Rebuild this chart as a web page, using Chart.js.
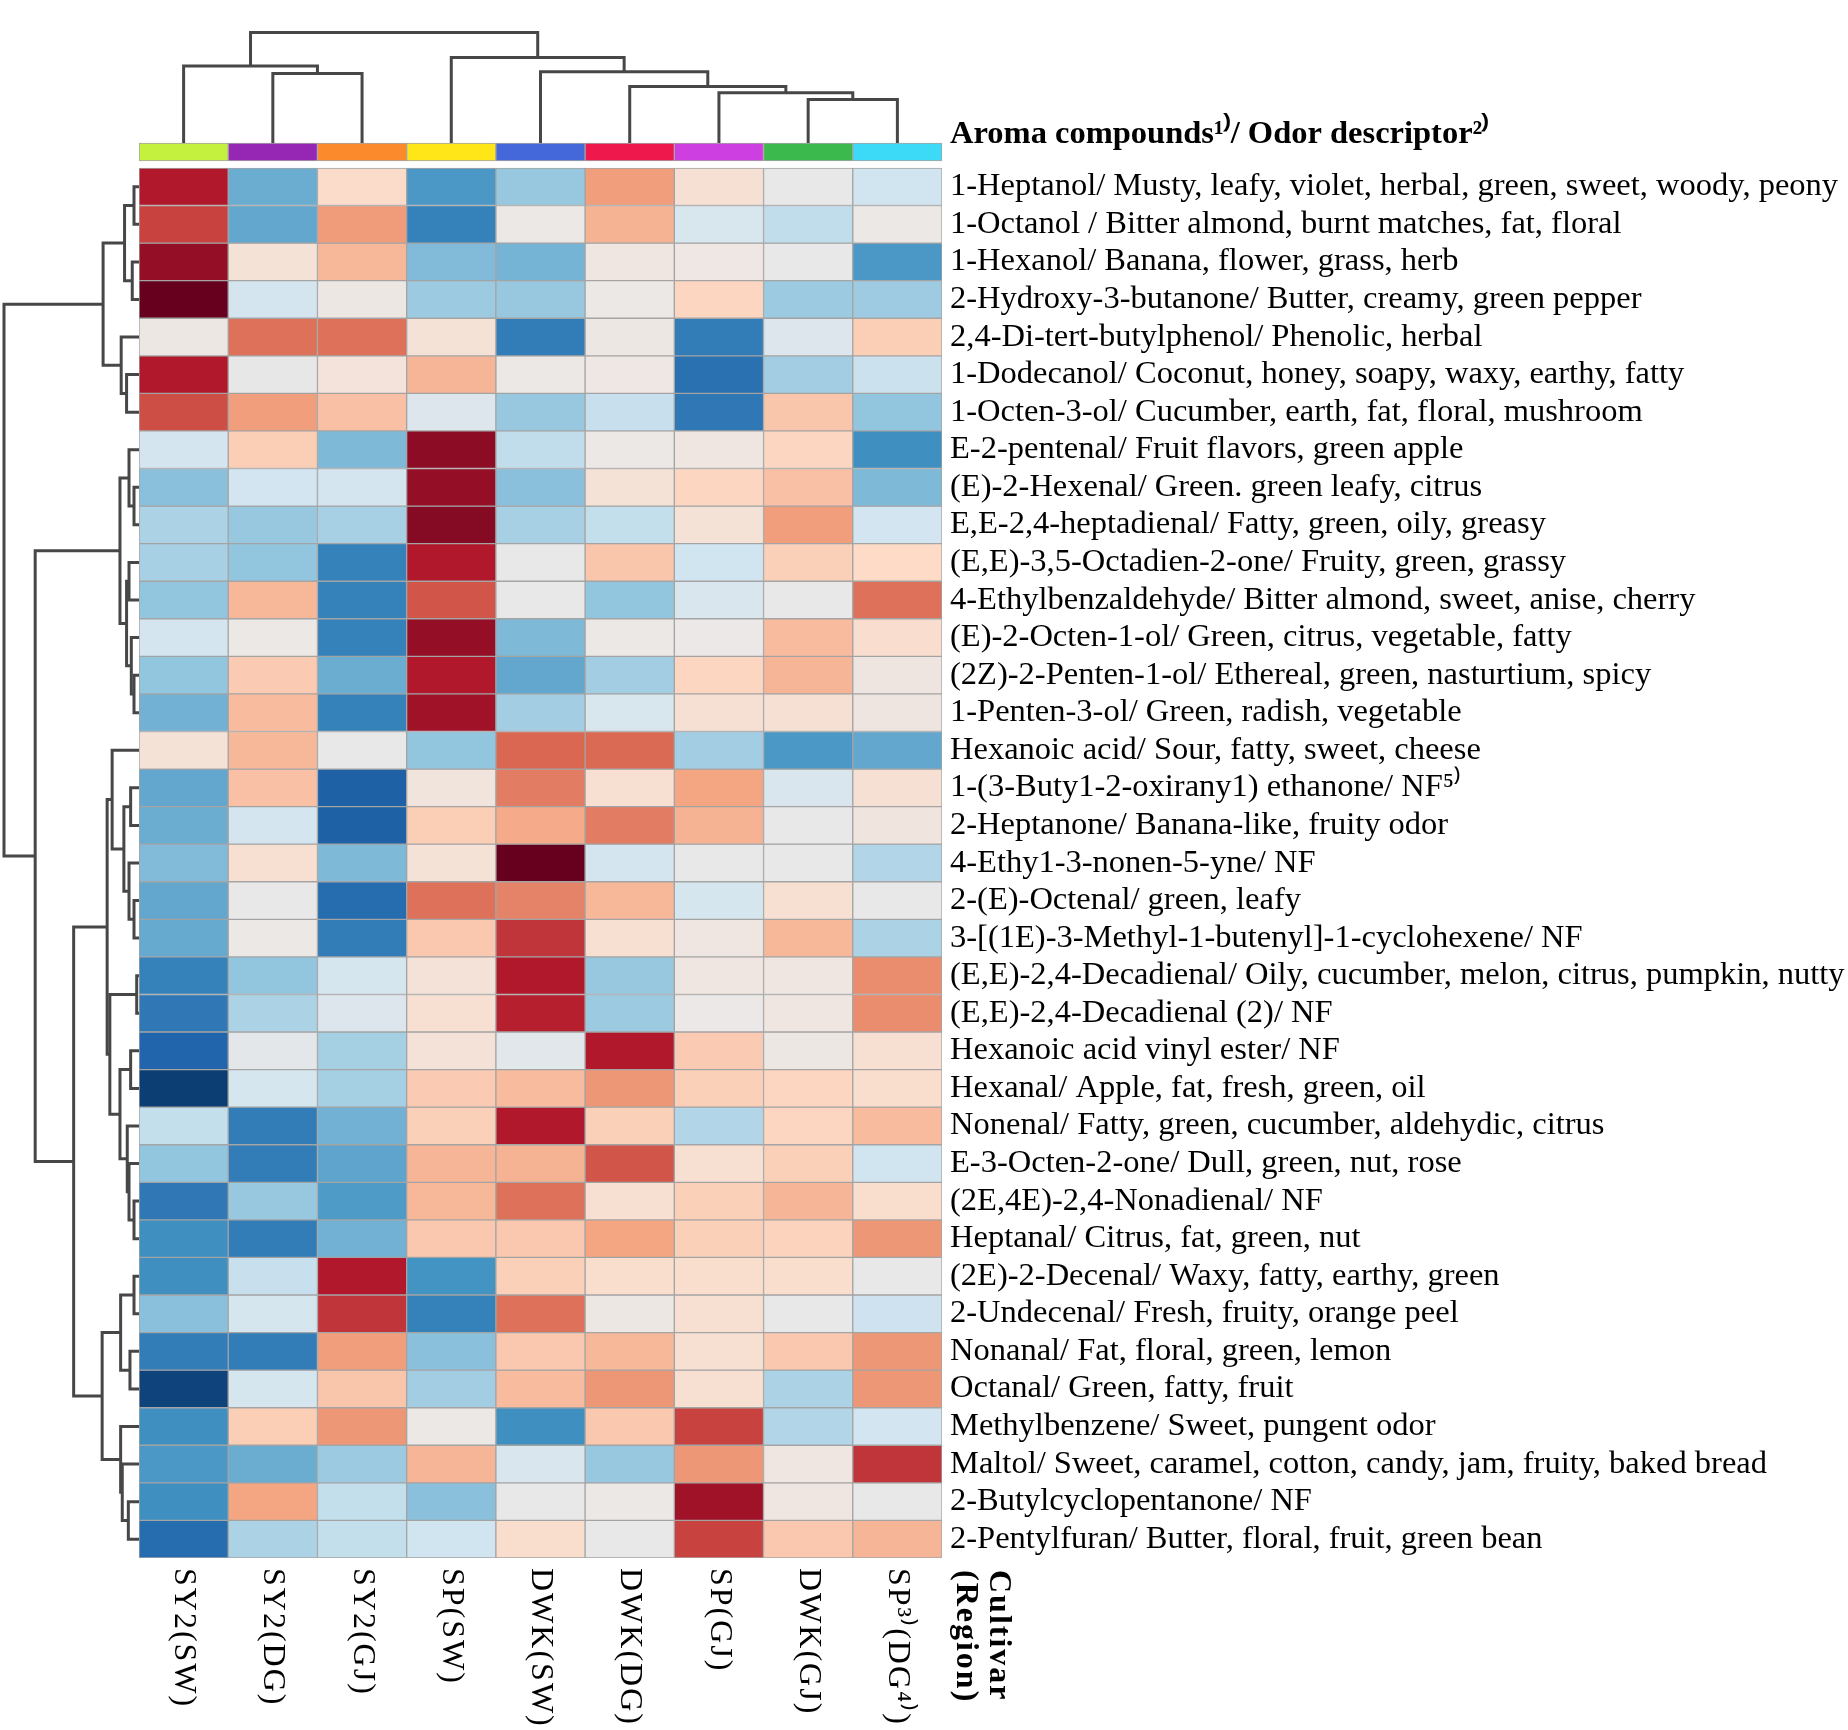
<!DOCTYPE html>
<html>
<head>
<meta charset="utf-8">
<script src="https://cdn.jsdelivr.net/npm/chart.js@4.4.0/dist/chart.umd.min.js"></script>
<style>
  body { margin: 0; background: #fff; }
  #wrap { position: relative; width: 1848px; height: 1730px; }
  canvas { position: absolute; left: 0; top: 0; }
</style>
</head>
<body>
<div id="wrap">
  <canvas id="heat" width="1848" height="1730"></canvas>
  <canvas id="colDendro" width="942" height="145"></canvas>
  <canvas id="rowDendro" width="141" height="1560"></canvas>
</div>
<script>
const header = 'Aroma compounds¹⁾/ Odor descriptor²⁾';
const compounds = [
  '1-Heptanol/ Musty, leafy, violet, herbal, green, sweet, woody, peony',
  '1-Octanol / Bitter almond, burnt matches, fat, floral',
  '1-Hexanol/ Banana, flower, grass, herb',
  '2-Hydroxy-3-butanone/ Butter, creamy, green pepper',
  '2,4-Di-tert-butylphenol/ Phenolic, herbal',
  '1-Dodecanol/ Coconut, honey, soapy, waxy, earthy, fatty',
  '1-Octen-3-ol/ Cucumber, earth, fat, floral, mushroom',
  'E-2-pentenal/ Fruit flavors, green apple',
  '(E)-2-Hexenal/ Green. green leafy, citrus',
  'E,E-2,4-heptadienal/ Fatty, green, oily, greasy',
  '(E,E)-3,5-Octadien-2-one/ Fruity, green, grassy',
  '4-Ethylbenzaldehyde/ Bitter almond, sweet, anise, cherry',
  '(E)-2-Octen-1-ol/ Green, citrus, vegetable, fatty',
  '(2Z)-2-Penten-1-ol/ Ethereal, green, nasturtium, spicy',
  '1-Penten-3-ol/ Green, radish, vegetable',
  'Hexanoic acid/ Sour, fatty, sweet, cheese',
  '1-(3-Buty1-2-oxirany1) ethanone/ NF⁵⁾',
  '2-Heptanone/ Banana-like, fruity odor',
  '4-Ethy1-3-nonen-5-yne/ NF',
  '2-(E)-Octenal/ green, leafy',
  '3-[(1E)-3-Methyl-1-butenyl]-1-cyclohexene/ NF',
  '(E,E)-2,4-Decadienal/ Oily, cucumber, melon, citrus, pumpkin, nutty',
  '(E,E)-2,4-Decadienal (2)/ NF',
  'Hexanoic acid vinyl ester/ NF',
  'Hexanal/ Apple, fat, fresh, green, oil',
  'Nonenal/ Fatty, green, cucumber, aldehydic, citrus',
  'E-3-Octen-2-one/ Dull, green, nut, rose',
  '(2E,4E)-2,4-Nonadienal/ NF',
  'Heptanal/ Citrus, fat, green, nut',
  '(2E)-2-Decenal/ Waxy, fatty, earthy, green',
  '2-Undecenal/ Fresh, fruity, orange peel',
  'Nonanal/ Fat, floral, green, lemon',
  'Octanal/ Green, fatty, fruit',
  'Methylbenzene/ Sweet, pungent odor',
  'Maltol/ Sweet, caramel, cotton, candy, jam, fruity, baked bread',
  '2-Butylcyclopentanone/ NF',
  '2-Pentylfuran/ Butter, floral, fruit, green bean'
];
const cultivars = ['SY2(SW)', 'SY2(DG)', 'SY2(GJ)', 'SP(SW)', 'DWK(SW)', 'DWK(DG)', 'SP(GJ)', 'DWK(GJ)', 'SP³⁾(DG⁴⁾)'];
const cultivarColors = ['#c4f03e', '#9626b4', '#fb8a2d', '#ffe619', '#4468da', '#ee184c', '#cd3fe0', '#3cb94d', '#3cdaf6'];

// scaled abundance, -1 (blue) .. 1 (red); one row per compound, columns in cultivar order
const values = [
  [0.8, -0.5, 0.18, -0.58, -0.38, 0.42, 0.12, -0.03, -0.2],
  [0.68, -0.52, 0.43, -0.68, 0, 0.35, -0.15, -0.25, 0],
  [0.88, 0.1, 0.33, -0.44, -0.47, 0.03, 0.02, -0.03, -0.58],
  [1.0, -0.18, 0.01, -0.37, -0.38, 0, 0.22, -0.37, -0.36],
  [0.01, 0.55, 0.55, 0.1, -0.7, 0.01, -0.7, -0.12, 0.25],
  [0.8, -0.04, 0.08, 0.34, 0, 0.02, -0.75, -0.35, -0.22],
  [0.65, 0.42, 0.3, -0.11, -0.38, -0.23, -0.72, 0.28, -0.4],
  [-0.18, 0.25, -0.45, 0.9, -0.25, 0, 0.03, 0.22, -0.62],
  [-0.42, -0.19, -0.18, 0.88, -0.42, 0.1, 0.22, 0.3, -0.45],
  [-0.32, -0.38, -0.33, 0.92, -0.33, -0.24, 0.1, 0.42, -0.19],
  [-0.33, -0.4, -0.68, 0.8, -0.03, 0.28, -0.2, 0.24, 0.2],
  [-0.4, 0.33, -0.68, 0.63, -0.03, -0.4, -0.13, -0.03, 0.55],
  [-0.18, 0, -0.68, 0.88, -0.45, 0, -0.01, 0.32, 0.15],
  [-0.4, 0.26, -0.5, 0.8, -0.52, -0.35, 0.22, 0.34, 0.04],
  [-0.48, 0.32, -0.68, 0.85, -0.35, -0.15, 0.12, 0.12, 0.04],
  [0.1, 0.33, -0.03, -0.4, 0.58, 0.57, -0.35, -0.58, -0.52],
  [-0.52, 0.3, -0.82, 0.06, 0.52, 0.13, 0.4, -0.13, 0.12],
  [-0.5, -0.18, -0.82, 0.25, 0.38, 0.52, 0.35, -0.03, 0.05],
  [-0.44, 0.13, -0.45, 0.1, 1.0, -0.18, -0.03, -0.03, -0.3],
  [-0.52, -0.03, -0.77, 0.55, 0.5, 0.33, -0.16, 0.13, -0.03],
  [-0.51, 0, -0.7, 0.27, 0.72, 0.13, 0.03, 0.33, -0.32],
  [-0.68, -0.4, -0.16, 0.09, 0.8, -0.38, 0.03, 0.03, 0.47],
  [-0.72, -0.32, -0.12, 0.13, 0.78, -0.37, -0.01, 0.03, 0.47],
  [-0.8, -0.06, -0.34, 0.09, -0.08, 0.8, 0.26, 0.01, 0.13],
  [-0.95, -0.16, -0.34, 0.26, 0.32, 0.44, 0.24, 0.22, 0.16],
  [-0.24, -0.7, -0.48, 0.24, 0.8, 0.24, -0.3, 0.22, 0.32],
  [-0.4, -0.7, -0.53, 0.34, 0.35, 0.63, 0.13, 0.24, -0.2],
  [-0.72, -0.38, -0.57, 0.33, 0.55, 0.13, 0.24, 0.34, 0.16],
  [-0.62, -0.7, -0.48, 0.27, 0.27, 0.4, 0.24, 0.23, 0.44],
  [-0.62, -0.23, 0.8, -0.6, 0.24, 0.16, 0.16, 0.16, -0.03],
  [-0.42, -0.16, 0.72, -0.68, 0.55, 0.01, 0.13, -0.03, -0.21],
  [-0.7, -0.7, 0.42, -0.42, 0.27, 0.33, 0.13, 0.27, 0.44],
  [-0.93, -0.16, 0.28, -0.35, 0.32, 0.44, 0.13, -0.32, 0.44],
  [-0.62, 0.25, 0.44, 0, -0.62, 0.27, 0.68, -0.3, -0.19],
  [-0.58, -0.5, -0.37, 0.34, -0.13, -0.38, 0.44, 0.03, 0.72],
  [-0.62, 0.4, -0.24, -0.42, -0.03, 0, 0.85, 0.03, -0.03],
  [-0.77, -0.32, -0.24, -0.2, 0.16, -0.03, 0.68, 0.27, 0.34]
];

// hclust style merges: negative = leaf (1-based), positive = earlier merge step
const colMerge = [[-8, -9], [-7, 1], [-6, 2], [-5, 3], [-2, -3], [-1, 5], [-4, 4], [6, 7]];
const colHeight = [3.15, 3.65, 4.09, 5.16, 5.04, 5.58, 6.2, 8.0];
const rowMerge = [
  [-1, -2], [-3, -4], [1, 2], [-6, -7], [-5, 4], [3, 5],
  [-9, -10], [-8, 7], [-11, -12], [-14, -15], [-13, 10], [9, 11], [8, 12],
  [-17, -18], [-20, -21], [-19, 15], [14, 16], [-16, 17],
  [-22, -23], [-24, -25], [-28, -29], [-27, 21], [-26, 22], [20, 23], [19, 24], [18, 25],
  [-30, -31], [-32, -33], [27, 28], [-36, -37], [-35, 30], [-34, 31], [29, 32],
  [26, 33], [13, 34], [6, 35]
];
const rowHeight = [
  0.37, 0.5, 1.07, 0.92, 1.32, 2.66,
  0.37, 0.74, 0.74, 0.37, 0.57, 0.92, 1.41,
  0.62, 0.37, 0.74, 1.12, 1.99,
  0.17, 0.62, 0.37, 0.74, 0.87, 1.41, 2.16, 2.36,
  0.37, 0.67, 1.36, 0.79, 1.24, 1.36, 2.73,
  4.84, 7.69, 10
];

const SERIF = '"Liberation Serif", "Times New Roman", serif';
const palette = ['#053061', '#2166ac', '#4393c3', '#92c5de', '#d1e5f0', '#ece8e6', '#fddbc7', '#f4a582', '#d6604d', '#b2182b', '#67001f'];

function hex(c) { return [1, 3, 5].map(i => parseInt(c.slice(i, i + 2), 16)); }
function colorFor(v) {
  const t = Math.max(0, Math.min(1, (v + 1) / 2)) * (palette.length - 1);
  const i = Math.min(Math.floor(t), palette.length - 2), f = t - i;
  const a = hex(palette[i]), b = hex(palette[i + 1]);
  const m = a.map((x, k) => Math.round(x + (b[k] - x) * f));
  return `rgb(${m[0]},${m[1]},${m[2]})`;
}

// layout (pixels)
const areaTop = 130.4, areaBottom = 1558, areaLeft = 139, areaRight = 942;
const headerPos = -0.88;
const colorBar = [-0.665, -0.185];

const cellDatasets = values.map((row, r) => ({
  data: row.map(() => [r, r + 1]),
  backgroundColor: row.map(colorFor),
}));
cellDatasets.push({
  data: cultivars.map(() => colorBar),
  backgroundColor: cultivarColors,
});

const bottomLabels = {
  id: 'bottomLabels',
  afterDraw(chart) {
    const { ctx, chartArea, scales: { x } } = chart;
    const colW = x.getPixelForValue(1) - x.getPixelForValue(0);
    ctx.save();
    ctx.fillStyle = '#000';
    ctx.textBaseline = 'middle';
    ctx.textAlign = 'left';
    ctx.letterSpacing = '2px';
    ctx.font = `32px ${SERIF}`;
    cultivars.forEach((c, i) => {
      ctx.save();
      ctx.translate(x.getPixelForValue(i), chartArea.bottom + 10);
      ctx.rotate(Math.PI / 2);
      ctx.fillText(c, 0, 0);
      ctx.restore();
    });
    ctx.font = `bold 32px ${SERIF}`;
    [['Cultivar', 1.13], ['(Region)', 0.76]].forEach(([t, off]) => {
      ctx.save();
      ctx.translate(x.getPixelForValue(8) + colW * off, chartArea.bottom + 12);
      ctx.rotate(Math.PI / 2);
      ctx.fillText(t, 0, 0);
      ctx.restore();
    });
    ctx.restore();
  }
};

new Chart(document.getElementById('heat'), {
  type: 'bar',
  data: {
    labels: cultivars,
    datasets: cellDatasets
  },
  options: {
    responsive: false,
    animation: false,
    devicePixelRatio: 1,
    layout: { padding: { left: areaLeft, top: areaTop, bottom: 1730 - areaBottom, right: 0 } },
    datasets: {
      bar: {
        grouped: false,
        barPercentage: 1,
        categoryPercentage: 1,
        borderSkipped: false,
        borderWidth: 1,
        borderColor: '#a4a4a4'
      }
    },
    plugins: { legend: { display: false }, tooltip: { enabled: false } },
    scales: {
      x: { display: false },
      y: {
        position: 'right',
        reverse: true,
        min: -1,
        max: compounds.length,
        grid: { display: false, drawTicks: false },
        border: { display: false },
        afterBuildTicks: (axis) => {
          axis.ticks = [{ value: headerPos }].concat(compounds.map((_, i) => ({ value: i + 0.5 })));
        },
        afterFit: (axis) => { axis.width = 1848 - areaRight; },
        ticks: {
          autoSkip: false,
          padding: 8,
          color: '#000',
          font: (ctx) => ({ family: SERIF, size: 32.5, weight: ctx.index === 0 ? 'bold' : 'normal' }),
          callback: (v, i) => (i === 0 ? header : compounds[i - 1])
        }
      }
    }
  },
  plugins: [bottomLabels]
});

function dendroLines(merge, heights, leafOffset) {
  const pos = [], hgt = [];
  const p = (c) => (c < 0 ? -c - 1 + leafOffset : pos[c - 1]);
  const h = (c) => (c < 0 ? 0 : hgt[c - 1]);
  return merge.map(([a, b], i) => {
    const pa = p(a), pb = p(b), ht = heights[i];
    pos.push((pa + pb) / 2);
    hgt.push(ht);
    return [[pa, h(a)], [pa, ht], [pb, ht], [pb, h(b)]];
  });
}

const lineStyle = { showLine: true, pointRadius: 0, borderColor: '#474747', borderWidth: 3, clip: false, tension: 0 };

new Chart(document.getElementById('colDendro'), {
  type: 'scatter',
  data: {
    datasets: dendroLines(colMerge, colHeight, 0).map(seg => ({
      ...lineStyle,
      data: seg.map(([pos, ht]) => ({ x: pos, y: ht }))
    }))
  },
  options: {
    responsive: false, animation: false, devicePixelRatio: 1,
    layout: { padding: { left: areaLeft, top: 5, right: 0, bottom: 2 } },
    plugins: { legend: { display: false }, tooltip: { enabled: false } },
    scales: {
      x: { type: 'linear', display: false, min: -0.5, max: cultivars.length - 0.5 },
      y: { display: false, min: 0, max: 10 }
    }
  }
});

new Chart(document.getElementById('rowDendro'), {
  type: 'scatter',
  data: {
    datasets: dendroLines(rowMerge, rowHeight, 0.5).map(seg => ({
      ...lineStyle,
      data: seg.map(([pos, ht]) => ({ x: ht, y: pos }))
    }))
  },
  options: {
    responsive: false, animation: false, devicePixelRatio: 1,
    layout: { padding: { left: 4, top: areaTop, right: 2, bottom: 2 } },
    plugins: { legend: { display: false }, tooltip: { enabled: false } },
    scales: {
      x: { type: 'linear', display: false, reverse: true, min: 0, max: 10 },
      y: { display: false, reverse: true, min: -1, max: compounds.length }
    }
  }
});
</script>
</body>
</html>
